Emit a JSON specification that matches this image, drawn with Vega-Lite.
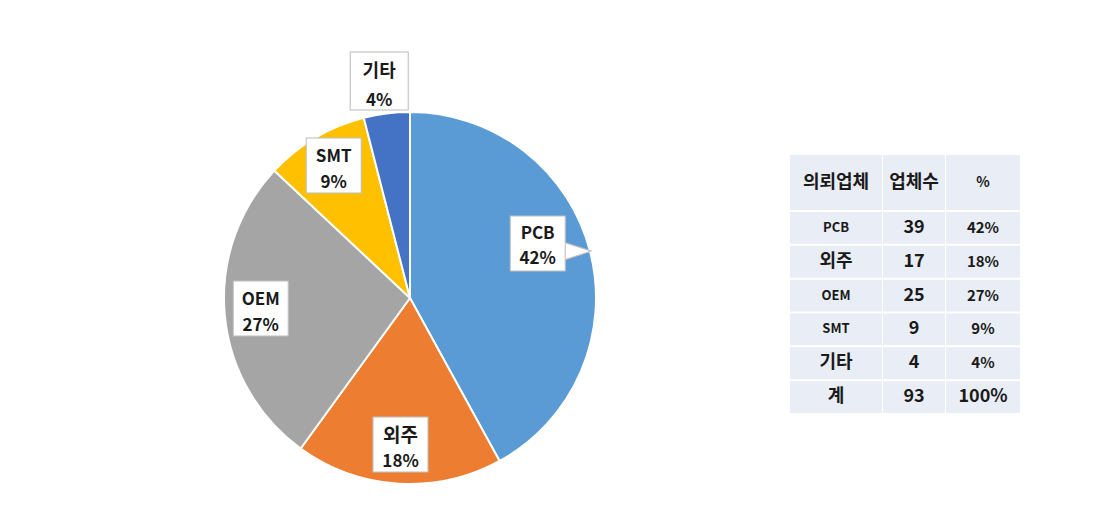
{
  "$schema": "https://vega.github.io/schema/vega-lite/v6.json",
  "background": "white",
  "padding": {"left": 40, "top": 56, "right": 0, "bottom": 0},
  "config": {"view": {"stroke": null}, "font": "Noto Sans CJK KR"},
  "datasets": {
    "rows": [
      {"ord": 1, "name": "PCB", "count": 39, "p": 42},
      {"ord": 2, "name": "외주", "count": 17, "p": 18},
      {"ord": 3, "name": "OEM", "count": 25, "p": 27},
      {"ord": 4, "name": "SMT", "count": 9, "p": 9},
      {"ord": 5, "name": "기타", "count": 4, "p": 4},
      {"ord": 6, "name": "계", "count": 93, "p": 100}
    ]
  },
  "hconcat": [
    {
      "width": 740,
      "height": 420,
      "data": {"name": "rows"},
      "transform": [
        {"filter": "datum.name !== '계'"},
        {"stack": "p", "groupby": [], "sort": [{"field": "ord"}], "as": ["s0", "s1"]},
        {"calculate": "(datum.s0 + datum.s1) / 2", "as": "mid"},
        {"calculate": "datum.p + '%'", "as": "pct"}
      ],
      "layer": [
        {
          "mark": {"type": "arc", "outerRadius": 186, "stroke": "white", "strokeWidth": 2},
          "encoding": {
            "theta": {"field": "s0", "type": "quantitative", "scale": {"domain": [0, 100]}},
            "theta2": {"field": "s1"},
            "color": {"field": "name", "type": "nominal", "legend": null,
              "scale": {"domain": ["PCB", "외주", "OEM", "SMT", "기타"], "range": ["#5B9BD5", "#ED7D31", "#A5A5A5", "#FFC000", "#4472C4"]}}
          }
        },
        {
          "transform": [{"filter": "indexof(['외주','OEM','SMT'], datum.name) >= 0"}],
          "encoding": {"theta": {"field": "mid", "type": "quantitative", "scale": {"domain": [0, 100]}}},
          "layer": [
            {"mark": {"type": "text", "text": "█", "font": "Noto Sans CJK KR", "fontSize": 55, "fill": "white", "stroke": "#BFBFBF", "strokeWidth": 1, "radius": 150, "align": "center", "baseline": "middle"}},
            {"mark": {"type": "text", "radius": 150, "fontWeight": "bold", "dy": -12, "color": "#1a1a1a", "baseline": "middle"},
             "encoding": {"text": {"field": "name"}, "size": {"condition": {"test": "datum.name === '외주'", "value": 19}, "value": 17}}},
            {"mark": {"type": "text", "radius": 150, "fontSize": 17, "fontWeight": "bold", "dy": 14, "color": "#1a1a1a", "baseline": "middle"},
             "encoding": {"text": {"field": "pct"}}}
          ]
        },
        {
          "transform": [{"filter": "datum.name === 'PCB'"}],
          "encoding": {"theta": {"field": "mid", "type": "quantitative", "scale": {"domain": [0, 100]}}},
          "layer": [
            {"mark": {"type": "text", "text": "►", "font": "DejaVu Sans", "fontSize": 38, "fill": "white", "stroke": "#BFBFBF", "strokeWidth": 1, "radius": 138, "dx": 33, "dy": -14, "align": "center", "baseline": "middle"}},
            {"mark": {"type": "text", "text": "█", "font": "Noto Sans CJK KR", "fontSize": 55, "fill": "white", "stroke": "#BFBFBF", "strokeWidth": 1, "radius": 138, "dx": -6, "dy": -17, "align": "center", "baseline": "middle"}},
            {"mark": {"type": "text", "radius": 138, "fontSize": 17, "fontWeight": "bold", "dx": -6, "dy": -30, "color": "#1a1a1a", "baseline": "middle"},
             "encoding": {"text": {"field": "name"}}},
            {"mark": {"type": "text", "radius": 138, "fontSize": 17, "fontWeight": "bold", "dx": -6, "dy": -5, "color": "#1a1a1a", "baseline": "middle"},
             "encoding": {"text": {"field": "pct"}}}
          ]
        },
        {
          "transform": [{"filter": "datum.name === '기타'"}],
          "encoding": {"theta": {"field": "mid", "type": "quantitative", "scale": {"domain": [0, 100]}}},
          "layer": [
            {"mark": {"type": "text", "text": "█", "font": "Noto Sans CJK KR", "fontSize": 58, "fill": "white", "stroke": "#BFBFBF", "strokeWidth": 1, "radius": 214, "dx": -4, "align": "center", "baseline": "middle"}},
            {"mark": {"type": "text", "radius": 214, "fontSize": 18, "fontWeight": "bold", "dx": -4, "dy": -14, "color": "#1a1a1a", "baseline": "middle"},
             "encoding": {"text": {"field": "name"}}},
            {"mark": {"type": "text", "radius": 214, "fontSize": 17, "fontWeight": "bold", "dx": -4, "dy": 15, "color": "#1a1a1a", "baseline": "middle"},
             "encoding": {"text": {"field": "pct"}}}
          ]
        }
      ]
    },
    {
      "spacing": 2,
      "vconcat": [
        {"width": 230, "height": 65, "data": {"values": [{}]}, "mark": {"type": "text", "text": ""}, "encoding": {}},
        {
          "spacing": 1,
          "hconcat": [
            {"width": 92, "height": 55, "view": {"fill": "#E9EDF5"}, "data": {"values": [{"h": "의뢰업체"}]},
             "mark": {"type": "text", "fontSize": 18, "fontWeight": "bold", "color": "#1a1a1a", "baseline": "middle"},
             "encoding": {"text": {"field": "h"}}},
            {"width": 62, "height": 55, "view": {"fill": "#E9EDF5"}, "data": {"values": [{"h": "업체수"}]},
             "mark": {"type": "text", "fontSize": 18, "fontWeight": "bold", "color": "#1a1a1a", "baseline": "middle"},
             "encoding": {"text": {"field": "h"}}},
            {"width": 74, "height": 55, "view": {"fill": "#E9EDF5"}, "data": {"values": [{"h": "%"}]},
             "mark": {"type": "text", "fontSize": 14, "fontWeight": "bold", "color": "#1a1a1a", "baseline": "middle"},
             "encoding": {"text": {"field": "h"}}}
          ]
        },
        {
          "spacing": 1,
          "hconcat": [
            {"width": 92, "height": 201, "data": {"name": "rows"},
             "encoding": {"y": {"field": "name", "type": "nominal", "sort": null, "axis": null, "scale": {"paddingInner": 0.06, "paddingOuter": 0}}},
             "layer": [
               {"mark": {"type": "rect", "fill": "#E9EDF5"}, "encoding": {"x": {"value": 0}, "x2": {"value": "width"}}},
               {"mark": {"type": "text", "fontWeight": "bold", "color": "#1a1a1a", "baseline": "middle"},
                "encoding": {"text": {"field": "name"}, "size": {"condition": {"test": "test(/[A-Z]/, datum.name)", "value": 13}, "value": 18}}}
             ]},
            {"width": 62, "height": 201, "data": {"name": "rows"},
             "encoding": {"y": {"field": "name", "type": "nominal", "sort": null, "axis": null, "scale": {"paddingInner": 0.06, "paddingOuter": 0}}},
             "layer": [
               {"mark": {"type": "rect", "fill": "#E9EDF5"}, "encoding": {"x": {"value": 0}, "x2": {"value": "width"}}},
               {"mark": {"type": "text", "fontWeight": "bold", "fontSize": 18, "color": "#1a1a1a", "baseline": "middle"},
                "encoding": {"text": {"field": "count"}}}
             ]},
            {"width": 74, "height": 201, "data": {"name": "rows"},
             "transform": [{"calculate": "datum.p + '%'", "as": "pct"}],
             "encoding": {"y": {"field": "name", "type": "nominal", "sort": null, "axis": null, "scale": {"paddingInner": 0.06, "paddingOuter": 0}}},
             "layer": [
               {"mark": {"type": "rect", "fill": "#E9EDF5"}, "encoding": {"x": {"value": 0}, "x2": {"value": "width"}}},
               {"mark": {"type": "text", "fontWeight": "bold", "color": "#1a1a1a", "baseline": "middle"},
                "encoding": {"text": {"field": "pct"}, "size": {"condition": {"test": "datum.name === '계'", "value": 18}, "value": 15}}}
             ]}
          ]
        }
      ]
    }
  ],
  "spacing": 10
}
